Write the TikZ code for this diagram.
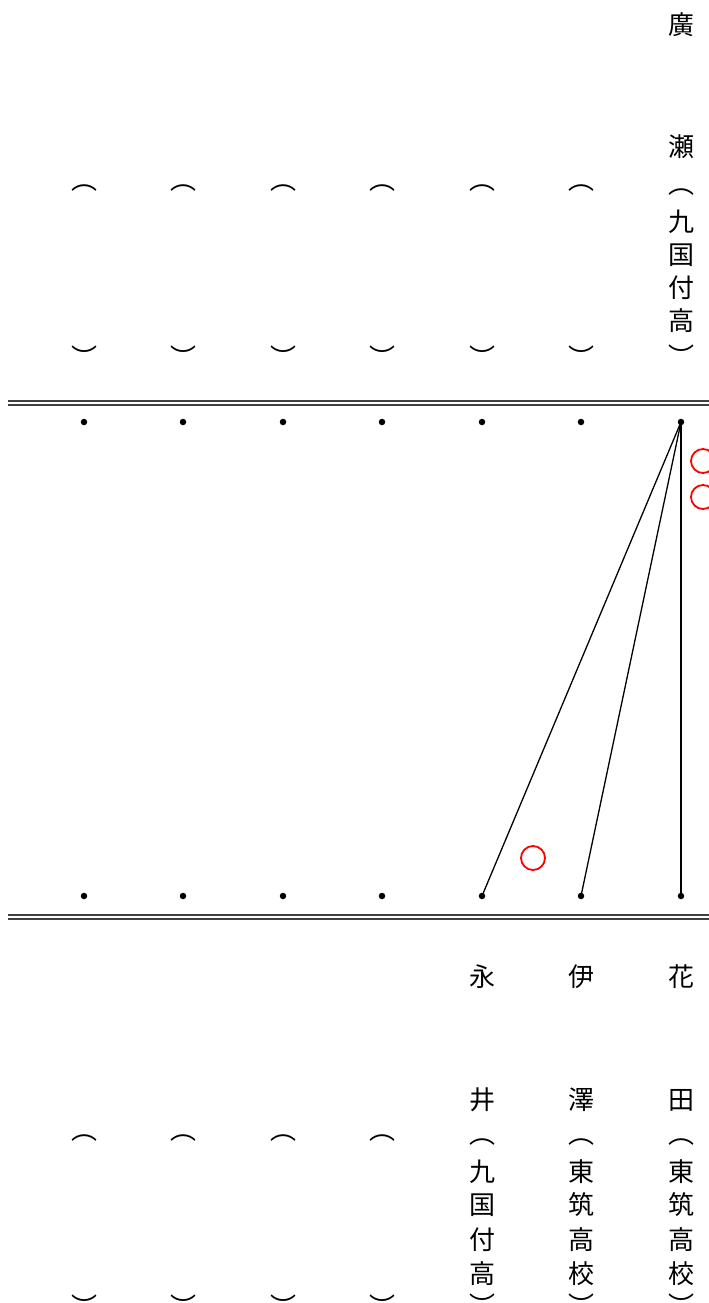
\documentclass[tikz,border=0pt]{standalone}
\usepackage{fontspec}
\newfontfamily\cjk{Noto Sans CJK JP}
\usetikzlibrary{positioning}

\begin{document}
\begin{tikzpicture}[x=1pt, y=-1pt,
  ch/.style={font=\cjk\fontsize{26}{26}\selectfont, inner sep=0pt},
  spot/.style={circle, fill=black, inner sep=0pt, minimum size=6.5pt},
  rail/.style={draw=black!75, line width=1.4pt},
  bout/.style={draw=black, line width=1.3pt},
  final/.style={draw=black, line width=1.8pt},
  win/.style={circle, draw=red, line width=1.8pt, minimum size=24pt, inner sep=0pt}
]
\useasboundingbox (0,0) rectangle (709,1303);

% double rails
\coordinate (rt1) at (8,401);  \coordinate (rt2) at (709,401);
\coordinate (rt3) at (8,405);  \coordinate (rt4) at (709,405);
\coordinate (rb1) at (8,915);  \coordinate (rb2) at (709,915);
\coordinate (rb3) at (8,919);  \coordinate (rb4) at (709,919);
\draw[rail] (rt1) -- (rt2);
\draw[rail] (rt3) -- (rt4);
\draw[rail] (rb1) -- (rb2);
\draw[rail] (rb3) -- (rb4);

% dots
\foreach \i/\x in {1/84,2/183,3/283,4/382,5/482,6/581,7/681} {
  \node[spot] (t\i) at (\x,422) {};
  \node[spot] (b\i) at (\x,896) {};
}

% empty name brackets
\foreach \i/\x in {1/84,2/183,3/283,4/382,5/482,6/581} {
  \node[ch] (tl\i) at (\x,188) {︵};
  \node[ch] (tr\i) at (\x,357) {︶};
}
\foreach \i/\x in {1/84,2/183,3/283,4/382} {
  \node[ch] (bl\i) at (\x,1138) {︵};
  \node[ch] (br\i) at (\x,1306) {︶};
}

% top name
\node[ch] (hiro1) at (681,25) {廣};
\node[ch] (hiro2) at (681,147) {瀬};
\node[ch] (hiro3) at (681,192) {︵};
\node[ch] (hiro4) at (681,222) {九};
\node[ch] (hiro5) at (681,255) {国};
\node[ch] (hiro6) at (681,288) {付};
\node[ch] (hiro7) at (681,321) {高};
\node[ch] (hiro8) at (681,356) {︶};

% bottom names
\node[ch] (naga1) at (482,977) {永};
\node[ch] (naga2) at (482,1100) {井};
\node[ch] (naga3) at (482,1142) {︵};
\node[ch] (naga4) at (482,1172) {九};
\node[ch] (naga5) at (482,1205) {国};
\node[ch] (naga6) at (482,1240) {付};
\node[ch] (naga7) at (482,1274) {高};
\node[ch] (naga8) at (482,1305) {︶};

\node[ch] (isa1) at (581,977) {伊};
\node[ch] (isa2) at (581,1100) {澤};
\node[ch] (isa3) at (581,1142) {︵};
\node[ch] (isa4) at (581,1172) {東};
\node[ch] (isa5) at (581,1205) {筑};
\node[ch] (isa6) at (581,1240) {高};
\node[ch] (isa7) at (581,1274) {校};
\node[ch] (isa8) at (581,1305) {︶};

\node[ch] (hana1) at (681,977) {花};
\node[ch] (hana2) at (681,1100) {田};
\node[ch] (hana3) at (681,1142) {︵};
\node[ch] (hana4) at (681,1172) {東};
\node[ch] (hana5) at (681,1205) {筑};
\node[ch] (hana6) at (681,1240) {高};
\node[ch] (hana7) at (681,1274) {校};
\node[ch] (hana8) at (681,1305) {︶};

% bouts
\draw[bout] (t7.center) -- (b5.center);
\draw[bout] (t7.center) -- (b6.center);
\draw[final] (t7.center) -- (b7.center);

% points
\node[win] (pt1) at (703,461) {};
\node[win] (pt2) at (703,497) {};
\node[win] (pb1) at (533,858) {};

\end{tikzpicture}
\end{document}
